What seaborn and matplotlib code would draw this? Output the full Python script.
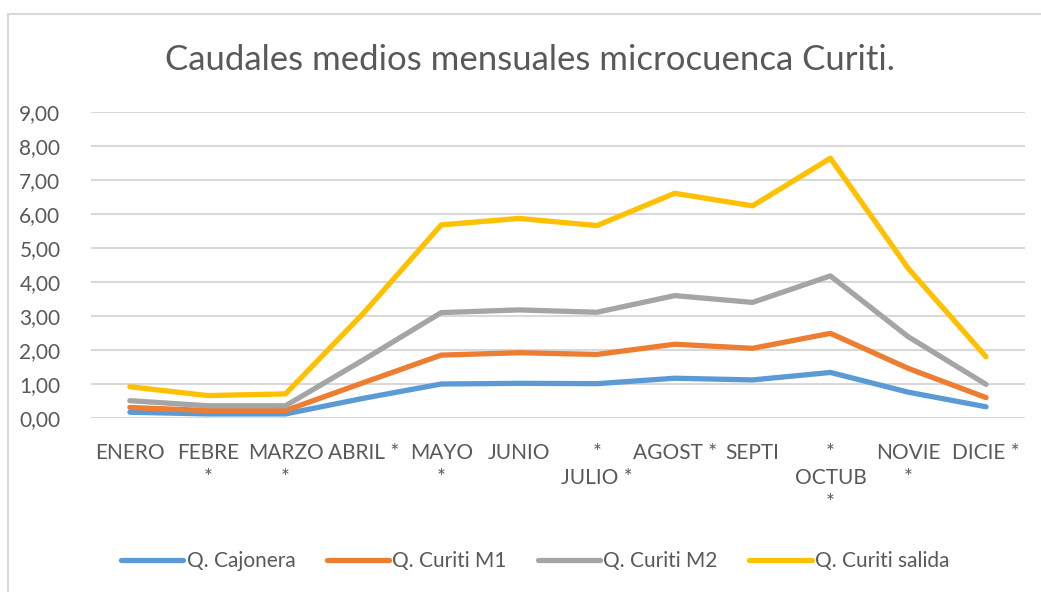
import matplotlib
matplotlib.use("Agg")
import matplotlib.pyplot as plt
import seaborn as sns
import pandas as pd
from matplotlib.lines import Line2D
from matplotlib.ticker import FuncFormatter

months = ["ENERO", "FEBRE\n*", "MARZO\n*", "ABRIL *", "MAYO\n*", "JUNIO",
          "*\nJULIO *", "AGOST *", "SEPTI", "*\nOCTUB\n*", "NOVIE\n*", "DICIE *"]
series = ["Q. Cajonera", "Q. Curiti M1", "Q. Curiti M2", "Q. Curiti salida"]
cajonera = [0.17, 0.12, 0.12, 0.58, 1.00, 1.02, 1.01, 1.17, 1.12, 1.34, 0.76, 0.33]
curiti_m1 = [0.31, 0.22, 0.22, 1.04, 1.85, 1.92, 1.87, 2.17, 2.05, 2.49, 1.46, 0.60]
curiti_m2 = [0.51, 0.36, 0.36, 1.71, 3.10, 3.18, 3.11, 3.60, 3.40, 4.18, 2.39, 0.99]
curiti_salida = [0.92, 0.66, 0.71, 3.08, 5.68, 5.87, 5.66, 6.61, 6.24, 7.64, 4.40, 1.80]
colors = ["#5B9BD5", "#ED7D31", "#A5A5A5", "#FFC000"]

rows = []
for name, vals in zip(series, [cajonera, curiti_m1, curiti_m2, curiti_salida]):
    for i, v in enumerate(vals):
        rows.append({"mes": i, "caudal": v, "serie": name})
df = pd.DataFrame(rows)

sns.set_style("white")
plt.rcParams["font.family"] = ["Lato", "DejaVu Sans"]
text_color = "#595959"

fig = plt.figure(figsize=(10.41, 5.92), dpi=100)
ax = fig.add_axes([0.0874, 0.2939, 0.8972, 0.5169])

sns.lineplot(data=df, x="mes", y="caudal", hue="serie", hue_order=series,
             palette=colors, linewidth=3.8, sort=False, ax=ax, legend=False)

ax.set_xlim(-0.5, 11.5)
ax.set_ylim(0, 9)
ax.set_yticks(range(0, 10))
ax.yaxis.set_major_formatter(FuncFormatter(lambda v, p: f"{v:.2f}".replace(".", ",")))
ax.set_xticks(range(12))
ax.set_xticklabels(months, linespacing=1.3)
ax.tick_params(axis="both", length=0, colors=text_color, labelsize=15)
ax.tick_params(axis="x", pad=18)
ax.tick_params(axis="y", pad=22)
ax.grid(axis="y", color="#D9D9D9", linewidth=1.5)
ax.set_axisbelow(True)
for s in ax.spines.values():
    s.set_visible(False)
ax.set_xlabel("")
ax.set_ylabel("")

fig.text(0.509, 0.899, "Caudales medios mensuales microcuenca Curiti.",
         ha="center", va="center", fontsize=25, color=text_color)

handles = [Line2D([0], [0], color=c, lw=3.8, solid_capstyle="round") for c in colors]
fig.legend(handles, series, loc="center", bbox_to_anchor=(0.514, 0.052), ncol=4,
           frameon=False, fontsize=15, labelcolor=text_color, handlelength=3.0,
           handletextpad=0.15, columnspacing=1.5)

# chart border
fig.add_artist(Line2D([8 / 1041, 8 / 1041], [0, 1 - 14 / 592], transform=fig.transFigure,
                      color="#D9D9D9", lw=1.5))
fig.add_artist(Line2D([8 / 1041, 1], [1 - 14 / 592, 1 - 14 / 592], transform=fig.transFigure,
                      color="#D9D9D9", lw=1.5))

fig.savefig("out.png", dpi=100)
